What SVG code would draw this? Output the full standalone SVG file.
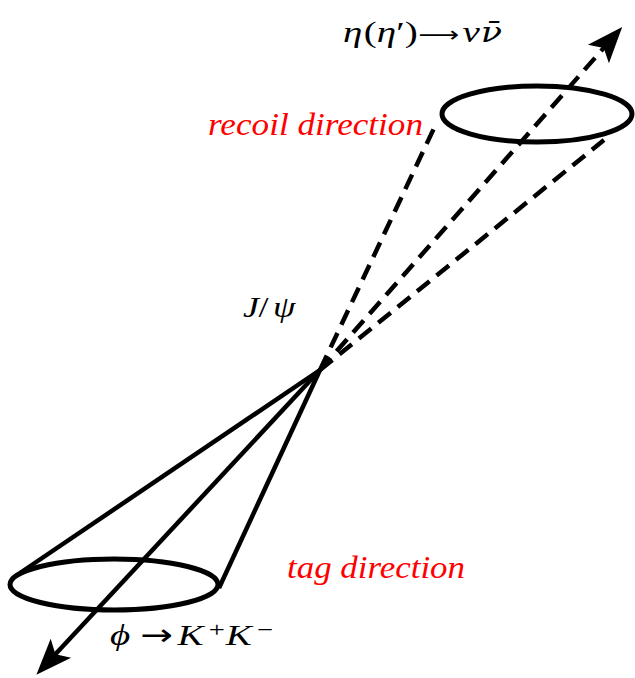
<svg xmlns="http://www.w3.org/2000/svg" width="635" height="678" viewBox="0 0 635 678">
<style>
.ell{fill:none;stroke:#000;stroke-width:5}
.solid{fill:none;stroke:#000;stroke-width:4.5}
.dash{fill:none;stroke:#000;stroke-width:4.5;stroke-dasharray:16 9}
.red{font-family:"Liberation Serif","DejaVu Serif",serif;font-style:italic;font-size:32px;fill:#ff0000}
.math{font-family:"Liberation Serif","DejaVu Serif",serif;font-size:30px;fill:#000}
.it{font-style:italic}
.arr{font-family:"DejaVu Sans",sans-serif}
</style>
<defs>
<marker id="ah" markerUnits="userSpaceOnUse" markerWidth="60" markerHeight="40" viewBox="-20 -20 60 40" refX="0" refY="0" orient="auto" overflow="visible">
<path d="M20,0 L-16,-14 L-8,0 L-16,14 Z" fill="#000"/>
</marker>
</defs>
<rect width="635" height="678" fill="#fff"/>
<g id="connectors">
<line class="dash" x1="320" y1="370" x2="436" y2="124"/>
<line class="dash" x1="320" y1="370" x2="604" y2="140"/>
<line class="dash" x1="320" y1="370" x2="609" y2="42" marker-end="url(#ah)"/>
<line class="solid" x1="320" y1="370" x2="20" y2="573"/>
<line class="solid" x1="320" y1="370" x2="219" y2="588"/>
<line class="solid" x1="320" y1="370" x2="50" y2="660" marker-end="url(#ah)"/>
</g>
<g id="recoil-ellipse"><ellipse class="ell" cx="537" cy="114" rx="95" ry="28"/></g>
<g id="tag-ellipse"><ellipse class="ell" cx="114" cy="584.5" rx="104" ry="25.5"/></g>
<g id="label-eta"><text class="math" transform="translate(343,42) scale(1.3,1)"><tspan class="it" x="0" y="0">η</tspan><tspan x="16">(</tspan><tspan class="it" x="26">η</tspan><tspan x="41">′</tspan><tspan x="47.5">)</tspan><tspan class="arr" x="58" y="0" font-size="22">⟶</tspan><tspan class="it" x="92" y="0">ν</tspan><tspan class="it" x="106" font-family="DejaVu Serif, serif" font-size="27">ν̄</tspan></text></g>
<g id="label-recoil"><text class="red" x="208" y="135" textLength="215" lengthAdjust="spacingAndGlyphs">recoil direction</text></g>
<g id="label-jpsi"><text class="math" font-size="32" transform="translate(243,317) scale(1.2,1)"><tspan class="it" x="0" y="0">J</tspan><tspan x="13">/</tspan><tspan class="it" x="25">ψ</tspan></text></g>
<g id="label-tag"><text class="red" x="287" y="578" textLength="178" lengthAdjust="spacingAndGlyphs">tag direction</text></g>
<g id="label-phi"><text class="math" transform="translate(110,645) scale(1.3,1)"><tspan class="it" x="0" y="0">ϕ</tspan><tspan class="arr" x="23" y="0">→</tspan><tspan class="it" x="52" y="0">K</tspan><tspan x="76" y="-8" font-size="22">+</tspan><tspan class="it" x="89" y="0">K</tspan><tspan x="113" y="-8" font-size="22">−</tspan></text></g>
</svg>
